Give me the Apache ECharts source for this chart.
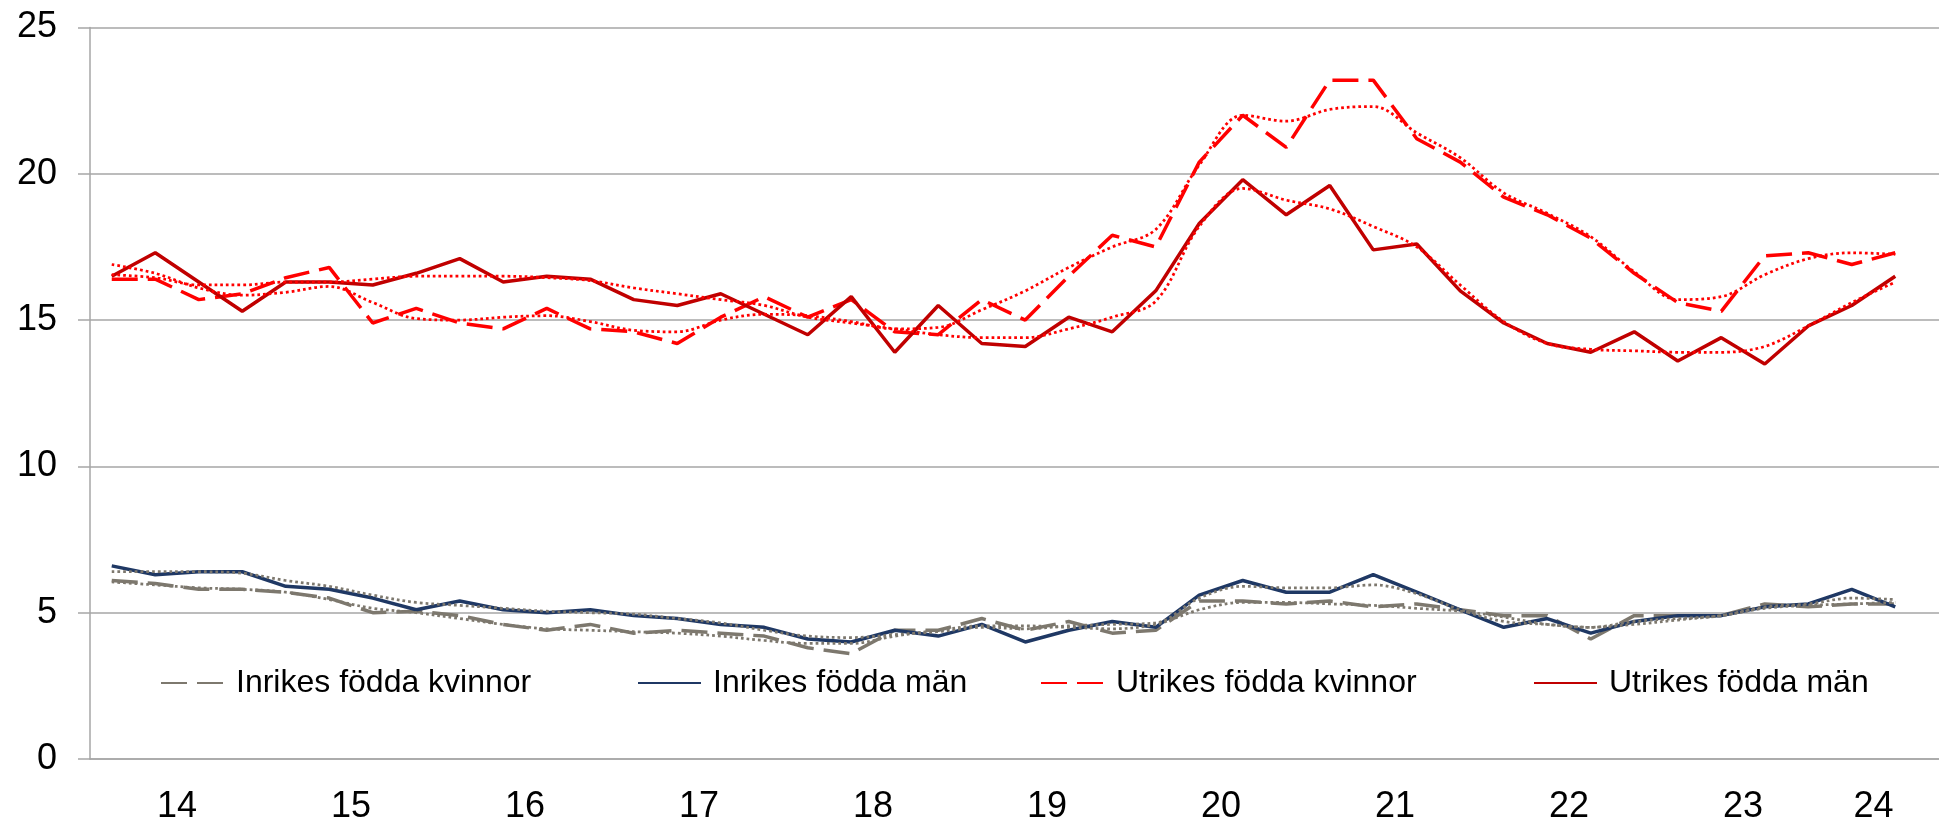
<!DOCTYPE html>
<html>
<head>
<meta charset="utf-8">
<script src="https://cdn.jsdelivr.net/npm/echarts@6/dist/echarts.min.js"></script>
<style>
  html, body { margin: 0; padding: 0; background: #fff; }
  #main { width: 1939px; height: 820px; }
</style>
</head>
<body>
<div id="main"></div>
<script>
// år och kvartal (2014 K1 - 2024 K3, sista kvartalet saknar värde)
var years = ['14', '15', '16', '17', '18', '19', '20', '21', '22', '23', '24'];
var quarters = ['K1', 'K2', 'K3', 'K4'];
var yTicks = [0, 5, 10, 15, 20, 25];

var inrikesKvinnor = [6.1, 6.0, 5.8, 5.8, 5.7, 5.5, 5.0, 5.05, 4.9, 4.6, 4.4, 4.6, 4.3, 4.4, 4.3, 4.2, 3.8, 3.6, 4.4, 4.4, 4.8, 4.4, 4.7, 4.3, 4.4, 5.4, 5.4, 5.3, 5.4, 5.2, 5.3, 5.1, 4.9, 4.9, 4.1, 4.9, 4.9, 4.9, 5.3, 5.2, 5.3, 5.3];
var inrikesMan = [6.6, 6.3, 6.4, 6.4, 5.9, 5.8, 5.5, 5.1, 5.4, 5.1, 5.0, 5.1, 4.9, 4.8, 4.6, 4.5, 4.1, 4.0, 4.4, 4.2, 4.6, 4.0, 4.4, 4.7, 4.5, 5.6, 6.1, 5.7, 5.7, 6.3, 5.7, 5.1, 4.5, 4.8, 4.3, 4.7, 4.9, 4.9, 5.2, 5.3, 5.8, 5.2];
var utrikesKvinnor = [16.4, 16.4, 15.7, 15.9, 16.45, 16.8, 14.9, 15.4, 14.9, 14.7, 15.4, 14.7, 14.6, 14.2, 15.1, 15.8, 15.1, 15.7, 14.6, 14.5, 15.7, 15.0, 16.5, 17.9, 17.5, 20.4, 22.0, 20.9, 23.2, 23.2, 21.2, 20.4, 19.2, 18.6, 17.8, 16.6, 15.6, 15.3, 17.2, 17.3, 16.9, 17.3];
var utrikesMan = [16.5, 17.3, 16.3, 15.3, 16.3, 16.3, 16.2, 16.6, 17.1, 16.3, 16.5, 16.4, 15.7, 15.5, 15.9, 15.2, 14.5, 15.8, 13.9, 15.5, 14.2, 14.1, 15.1, 14.6, 16.0, 18.3, 19.8, 18.6, 19.6, 17.4, 17.6, 16.0, 14.9, 14.2, 13.9, 14.6, 13.6, 14.4, 13.5, 14.8, 15.5, 16.5];

// trender (prickade linjer)
var inrikesKvinnorTrend = [6.05, 5.95, 5.85, 5.8, 5.7, 5.45, 5.15, 5.0, 4.8, 4.6, 4.45, 4.4, 4.35, 4.3, 4.2, 4.05, 3.95, 3.95, 4.2, 4.4, 4.55, 4.55, 4.5, 4.45, 4.6, 5.1, 5.35, 5.35, 5.3, 5.25, 5.15, 5.05, 4.85, 4.6, 4.5, 4.6, 4.75, 4.9, 5.15, 5.25, 5.3, 5.35];
var inrikesManTrend = [6.4, 6.4, 6.4, 6.35, 6.1, 5.9, 5.6, 5.35, 5.25, 5.15, 5.05, 5.0, 4.95, 4.8, 4.65, 4.4, 4.2, 4.15, 4.25, 4.35, 4.5, 4.45, 4.55, 4.6, 4.65, 5.5, 5.9, 5.85, 5.85, 5.95, 5.65, 5.1, 4.7, 4.6, 4.5, 4.7, 4.8, 4.9, 5.2, 5.3, 5.5, 5.45];
var utrikesKvinnorTrend = [16.9, 16.6, 16.1, 15.85, 15.95, 16.15, 15.6, 15.05, 15.0, 15.1, 15.15, 14.95, 14.65, 14.6, 15.0, 15.2, 15.15, 14.95, 14.7, 14.75, 15.35, 16.0, 16.8, 17.5, 18.1, 20.3, 22.0, 21.8, 22.2, 22.3, 21.4, 20.55, 19.35, 18.65, 17.85, 16.65, 15.7, 15.8, 16.55, 17.1, 17.3, 17.25];
var utrikesManTrend = [16.55, 16.45, 16.2, 16.2, 16.3, 16.3, 16.4, 16.5, 16.5, 16.5, 16.45, 16.35, 16.1, 15.9, 15.7, 15.5, 15.1, 14.9, 14.7, 14.5, 14.4, 14.4, 14.7, 15.1, 15.65, 18.2, 19.5, 19.1, 18.8, 18.2, 17.5, 16.2, 14.95, 14.2, 14.0, 13.95, 13.9, 13.9, 14.1, 14.8, 15.6, 16.3];

var categories = [];
years.forEach(function (y) {
    quarters.forEach(function (q) {
        if (categories.length < 43) categories.push(y + ' ' + q);
    });
});

var FONT = '"Liberation Sans", Arial, sans-serif';
var GRAY = '#A6A6A6';
var LONGDASH = [26, 10];

var myChart = echarts.init(document.getElementById('main'));

function mainLine(name, data, color, type) {
    return {
        name: name,
        type: 'line',
        data: data,
        symbol: 'none',
        z: 3,
        color: color,
        itemStyle: { color: color, opacity: 0 },
        lineStyle: { color: color, width: 3.5, type: type }
    };
}
function trendLine(name, data, color) {
    return {
        name: name,
        type: 'line',
        data: data,
        symbol: 'none',
        smooth: 0.35,
        z: 4,
        color: color,
        lineStyle: { color: color, width: 2.75, type: [2.75, 3] }
    };
}
function legendAt(name, left) {
    return {
        data: [name],
        left: left,
        top: 665,
        padding: 0,
        itemWidth: 63,
        itemHeight: 14,
        itemStyle: { opacity: 0 },
        textStyle: { fontSize: 32, lineHeight: 36, fontFamily: FONT, color: '#000', padding: [0, 0, 0, 7] }
    };
}

var option = {
    animation: false,
    backgroundColor: '#fff',
    // rutnätet fortsätter förbi bildens högerkant
    grid: { left: 90, top: 27.5, bottom: 61, right: -21.5, outerBoundsMode: 'none' },
    legend: [
        legendAt('Inrikes födda kvinnor', 160),
        legendAt('Inrikes födda män', 637),
        legendAt('Utrikes födda kvinnor', 1040),
        legendAt('Utrikes födda män', 1533)
    ],
    xAxis: {
        type: 'category',
        data: categories,
        boundaryGap: true,
        axisLine: { lineStyle: { color: GRAY, width: 1.5 } },
        axisTick: {
            length: 11,
            lineStyle: { color: GRAY, width: 1.5 },
            interval: function (i) { return i % 4 === 0; }
        },
        axisLabel: {
            interval: function (i) { return (i % 4 === 1 && i < 40) || i === 40; },
            margin: 30,
            formatter: function (value) {
                return '{y|' + value.split(' ')[0] + '}';
            },
            rich: {
                y: { fontSize: 36, fontFamily: FONT, color: '#000', padding: [0, 0, 0, 43.5] }
            }
        }
    },
    yAxis: {
        type: 'value',
        min: yTicks[0],
        max: yTicks[yTicks.length - 1],
        interval: 5,
        axisLine: { show: true, lineStyle: { color: GRAY, width: 1.5 } },
        axisTick: { show: true, length: 12, lineStyle: { color: GRAY, width: 1.5 } },
        splitLine: { lineStyle: { color: GRAY, width: 1.5 } },
        axisLabel: { fontSize: 36, fontFamily: FONT, color: '#000', margin: 33 }
    },
    series: [
        mainLine('Inrikes födda kvinnor', inrikesKvinnor, '#7D786E', LONGDASH),
        mainLine('Inrikes födda män', inrikesMan, '#1F3864', 'solid'),
        mainLine('Utrikes födda kvinnor', utrikesKvinnor, '#FF0000', LONGDASH),
        mainLine('Utrikes födda män', utrikesMan, '#C00000', 'solid'),
        trendLine('Trend inrikes kvinnor', inrikesKvinnorTrend, '#7D786E'),
        trendLine('Trend inrikes män', inrikesManTrend, '#7D786E'),
        trendLine('Trend utrikes kvinnor', utrikesKvinnorTrend, '#FF0000'),
        trendLine('Trend utrikes män', utrikesManTrend, '#FF0000')
    ]
};

myChart.setOption(option);
</script>
</body>
</html>
